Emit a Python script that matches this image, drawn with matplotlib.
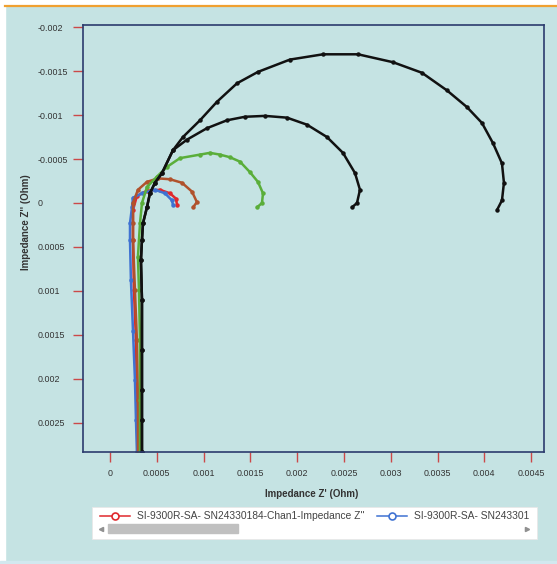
import matplotlib.pyplot as plt
from matplotlib.patches import Rectangle
from matplotlib.lines import Line2D

# Nyquist data (Ohm): Z' and Z''
red_x = [0.000299, 0.000288, 0.000278, 0.000256, 0.000246, 0.000246, 0.000288,
         0.000395, 0.000534, 0.000641, 0.000705, 0.000716]
red_y = [0.00283, 0.00224, 0.00156, 0.00099, 0.00042, 0.00008, -0.00008,
         -0.00014, -0.00015, -0.00011, -0.00005, 0.00002]

blue_x = [0.000288, 0.000278, 0.000267, 0.000246, 0.000224, 0.000214, 0.000214,
          0.000235, 0.000246, 0.000342, 0.000481, 0.000588, 0.000662, 0.000673]
blue_y = [0.00283, 0.00247, 0.00201, 0.00145, 0.00088, 0.00042, 0.00023,
          0.00005, -0.00006, -0.00011, -0.00015, -0.00011, -0.00003, 0.00002]

brown_x = [0.000299, 0.000299, 0.000288, 0.000267, 0.000246, 0.000246, 0.000246,
           0.000299, 0.000395, 0.000513, 0.000641, 0.000769, 0.000876, 0.000929, 0.000887]
brown_y = [0.00283, 0.00224, 0.00156, 0.00099, 0.00042, 0.00023, 0.0,
           -0.00015, -0.00024, -0.00028, -0.00027, -0.00023, -0.00013, -0.00001, 0.00005]

green_x = [0.000321, 0.000321, 0.000321, 0.000310, 0.000299, 0.000321, 0.000342,
           0.000395, 0.000502, 0.000609, 0.000748, 0.000962, 0.001068, 0.001175,
           0.001282, 0.001389, 0.001496, 0.001581, 0.001635, 0.001624, 0.001571]
green_y = [0.00283, 0.00224, 0.00156, 0.00099, 0.00061, 0.00023, 0.0,
           -0.00018, -0.00030, -0.00041, -0.00051, -0.00055, -0.00057, -0.00055,
           -0.00052, -0.00047, -0.00035, -0.00024, -0.00011, 0.0, 0.00005]

black1_x = [0.000342, 0.000342, 0.000342, 0.000342, 0.000342, 0.000331, 0.000342,
            0.000353, 0.000395, 0.000427, 0.000481, 0.000556, 0.000673, 0.000823,
            0.001036, 0.001250, 0.001442, 0.001656, 0.001891, 0.002105, 0.002318,
            0.002489, 0.002618, 0.002671, 0.002639, 0.002585]
black1_y = [0.00283, 0.00247, 0.00213, 0.00167, 0.00110, 0.00065, 0.00042,
            0.00023, 0.00005, -0.00011, -0.00023, -0.00034, -0.00060, -0.00072,
            -0.00085, -0.00094, -0.00098, -0.00099, -0.00097, -0.00089, -0.00075,
            -0.00057, -0.00034, -0.00015, 0.0, 0.00005]

black2_x = [0.000342, 0.000342, 0.000342, 0.000342, 0.000342, 0.000331, 0.000342,
            0.000353, 0.000395, 0.000427, 0.000481, 0.000556, 0.000673, 0.000780,
            0.000962, 0.001143, 0.001357, 0.001581, 0.001923, 0.002276, 0.002650,
            0.003024, 0.003333, 0.003600, 0.003814, 0.003974, 0.004092, 0.004188,
            0.004209, 0.004188, 0.004135]
black2_y = [0.00283, 0.00247, 0.00213, 0.00167, 0.00110, 0.00065, 0.00042,
            0.00023, 0.00005, -0.00011, -0.00023, -0.00034, -0.00060, -0.00075,
            -0.00094, -0.00115, -0.00136, -0.00149, -0.00163, -0.00169, -0.00169,
            -0.00160, -0.00148, -0.00128, -0.00109, -0.00091, -0.00068, -0.00045,
            -0.00023, -0.00003, 0.00008]

x_ticks = [0, 0.0005, 0.001, 0.0015, 0.002, 0.0025, 0.003, 0.0035, 0.004, 0.0045]
x_labels = ['0', '0.0005', '0.001', '0.0015', '0.002', '0.0025', '0.003', '0.0035', '0.004', '0.0045']
y_ticks = [-0.002, -0.0015, -0.001, -0.0005, 0, 0.0005, 0.001, 0.0015, 0.002, 0.0025]
y_labels = ['-0.002', '-0.0015', '-0.001', '-0.0005', '0', '0.0005', '0.001', '0.0015', '0.002', '0.0025']

# second entry is cut off by the legend panel in the reference
legend_labels = ["SI-9300R-SA- SN24330184-Chan1-Impedance Z''",
                 "SI-9300R-SA- SN243301"]

bg = '#c5e3e3'
plt.rcParams['font.family'] = ['Liberation Sans', 'DejaVu Sans']

W, H = 557, 564
fig = plt.figure(figsize=(W / 100, H / 100), dpi=100, facecolor=bg)

def fx(px):
    return px / W

def fy(py):
    return 1 - py / H

# white frame bits and orange top line
fig.patches.append(Rectangle((0, 0), fx(5), 1, transform=fig.transFigure, color='white', zorder=0))
fig.patches.append(Rectangle((0, fy(5)), 1, 5 / H, transform=fig.transFigure, color='white', zorder=0))
fig.patches.append(Rectangle((0, 0), 1, 3 / H, transform=fig.transFigure, color='#d2e8ef', zorder=0))
fig.add_artist(Line2D([fx(5), 1], [fy(6), fy(6)], color='#f0a030', lw=1.6))

ax = fig.add_axes([fx(83), fy(452), fx(544) - fx(83), fy(25) - fy(452)])
ax.set_facecolor(bg)

series = [(red_x, red_y, '#e0282c'), (blue_x, blue_y, '#3f72d2'),
          (brown_x, brown_y, '#b0522c'), (green_x, green_y, '#5aae3a'),
          (black1_x, black1_y, '#111111'), (black2_x, black2_y, '#111111')]
for xs, ys, c in series:
    ax.plot(xs, ys, color=c, lw=1.8, marker='o', ms=2.2, mec=c, mfc=c,
            solid_joinstyle='round', solid_capstyle='round')

ax.set_xlim(-0.000288, 0.004637)
ax.set_ylim(0.00283, -0.002023)
ax.set_xticks(x_ticks)
ax.set_xticklabels(x_labels)
ax.set_yticks(y_ticks)
ax.set_yticklabels(y_labels)

tick_col = '#cc4848'
ax.tick_params(axis='both', direction='out', length=7, width=1, color=tick_col,
               labelsize=6.4, labelcolor='#333333')
ax.tick_params(axis='x', pad=5)
ax.tick_params(axis='y', pad=26)
for lab in ax.get_yticklabels():
    lab.set_horizontalalignment('left')

for sp in ax.spines.values():
    sp.set_color('#2c3b6e')
    sp.set_linewidth(1.2)

ax.set_xlabel("Impedance Z' (Ohm)", fontsize=7.0, fontweight='bold', color='#333333')
ax.set_ylabel("Impedance Z'' (Ohm)", fontsize=7.0, fontweight='bold', color='#333333')
ax.xaxis.set_label_coords((312 - 83) / (544 - 83), -(489 - 452) / (452 - 25))
ax.yaxis.set_label_coords(-(83 - 31) / (544 - 83), (452 - 222) / (452 - 25))

# legend panel with scrollbar
box = Rectangle((fx(92), fy(539)), fx(537) - fx(92), fy(507) - fy(539),
                transform=fig.transFigure, facecolor='white', edgecolor='#e8e8e8', lw=0.6)
fig.patches.append(box)
ly = fy(516)
for lab, c, x0 in zip(legend_labels, ['#e0282c', '#3f72d2'], [100, 377]):
    fig.add_artist(Line2D([fx(x0), fx(x0 + 15), fx(x0 + 30)], [ly, ly, ly], color=c,
                          lw=1.1, marker='o', markevery=[1], ms=5, mfc='white', mec=c, mew=1.2))
    fig.text(fx(x0 + 37), ly, lab, fontsize=7.4, color='#444444', va='center', ha='left')
fig.patches.append(Rectangle((fx(108), fy(533)), fx(238) - fx(108), 9 / H,
                             transform=fig.transFigure, color='#c0c0c0'))
fig.add_artist(Line2D([fx(101)], [fy(528.5)], marker='<', ms=3, color='#909090', lw=0))
fig.add_artist(Line2D([fx(527)], [fy(528.5)], marker='>', ms=3, color='#909090', lw=0))

plt.savefig('out.png', dpi=100, facecolor=bg)
